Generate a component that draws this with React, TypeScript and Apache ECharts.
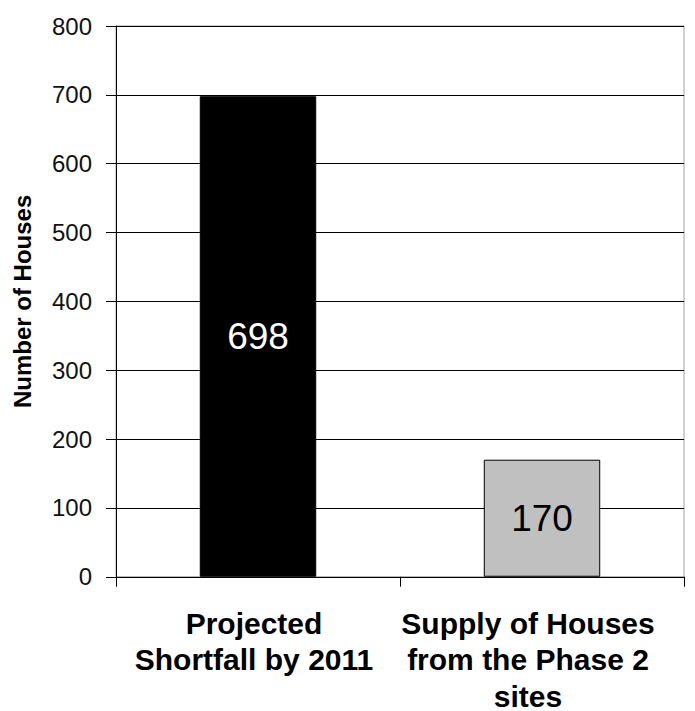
import React, { useEffect, useRef } from "react";
import * as echarts from "echarts";

const categories = ["Projected\nShortfall by 2011", "Supply of Houses\nfrom the Phase 2\nsites"];
const values = [698, 170];
const barColors = ["#000000", "#C0C0C0"];
const labelColors = ["#FFFFFF", "#000000"];
const yTicks = [0, 100, 200, 300, 400, 500, 600, 700, 800];
const yTitle = "Number of Houses";

const FONT = "'Liberation Sans', Arial, sans-serif";

export default function App() {
  const ref = useRef<HTMLDivElement>(null);
  useEffect(() => {
    const chart = echarts.init(ref.current!, null, { renderer: "svg" });
    chart.setOption({
      animation: false,
      backgroundColor: "#FFFFFF",
      grid: { left: 116, right: 11, top: 26, bottom: 133, show: true, borderColor: "#A0A0A0", borderWidth: 1, backgroundColor: "transparent" },
      xAxis: {
        type: "category",
        data: categories,
        axisLine: { show: true, lineStyle: { color: "#000", width: 1 } },
        axisTick: { show: true, length: 10, lineStyle: { color: "#000" } },
        axisLabel: {
          interval: 0,
          margin: 28,
          formatter: (v: string, i: number) =>
            v.split("\n").map((s) => `{${i === 0 ? "a" : "b"}|${s}}`).join("\n"),
          rich: {
            a: { fontFamily: FONT, fontWeight: "bold", fontSize: 30, color: "#000", lineHeight: 36.5, padding: [0, 8, 0, 0] },
            b: { fontFamily: FONT, fontWeight: "bold", fontSize: 30, color: "#000", lineHeight: 36.5, padding: [0, 28, 0, 0] },
          },
        },
      },
      yAxis: {
        type: "value",
        min: yTicks[0],
        max: yTicks[yTicks.length - 1],
        interval: 100,
        name: yTitle,
        nameLocation: "middle",
        nameGap: 82,
        nameTextStyle: { fontFamily: FONT, fontWeight: "bold", fontSize: 24, color: "#000" },
        axisLine: { show: true, lineStyle: { color: "#000", width: 1 } },
        axisTick: { show: true, length: 10, lineStyle: { color: "#000" } },
        axisLabel: { margin: 24, fontFamily: FONT, fontSize: 24, color: "#111" },
        splitLine: { show: true, lineStyle: { color: "#000", width: 1 } },
      },
      series: [
        {
          type: "bar",
          barWidth: "41%",
          data: values.map((v, i) => ({
            value: v,
            itemStyle: { color: barColors[i], borderColor: "#000", borderWidth: 1 },
            label: { color: labelColors[i] },
          })),
          label: {
            show: true,
            position: "inside",
            fontFamily: FONT,
            fontSize: 37,
          },
        },
      ],
    });
    return () => chart.dispose();
  }, []);
  return <div ref={ref} style={{ position: "fixed", left: 0, top: 0, width: 695, height: 711 }} />;
}
